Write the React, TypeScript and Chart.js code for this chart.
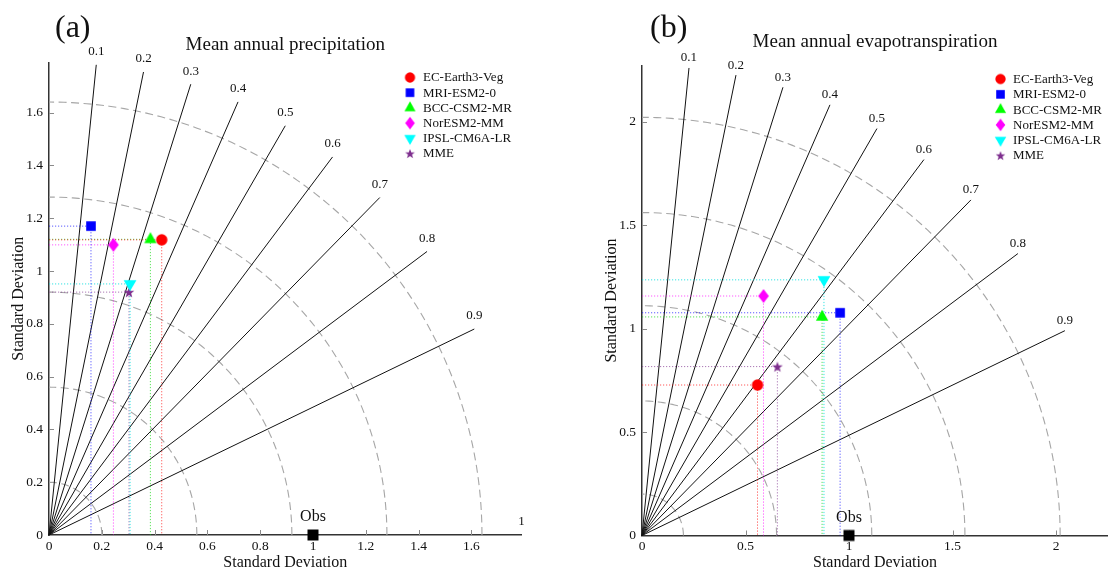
import React, { useEffect, useRef } from 'react';
import { Chart, registerables } from 'chart.js';

Chart.register(...registerables);

// ---------------- data ----------------
const modelNames = ['EC-Earth3-Veg', 'MRI-ESM2-0', 'BCC-CSM2-MR', 'NorESM2-MM', 'IPSL-CM6A-LR', 'MME'];

// Panel (a): mean annual precipitation (standard deviation components)
const precipStdX = [0.427, 0.159, 0.384, 0.244, 0.307, 0.303];
const precipStdY = [1.118, 1.170, 1.120, 1.099, 0.951, 0.920];

// Panel (b): mean annual evapotranspiration
const evapStdX = [0.558, 0.957, 0.870, 0.587, 0.879, 0.654];
const evapStdY = [0.727, 1.076, 1.056, 1.157, 1.235, 0.816];

// Observation reference point (normalised)
const obsStd = 1;

// Correlation rays and labels
const correlationValues = [0.1, 0.2, 0.3, 0.4, 0.5, 0.6, 0.7, 0.8, 0.9];

// Dashed arcs (radius in standard deviation units)
const precipArcs = [0.2, 0.56, 0.92, 1.28, 1.64];
const evapArcs = [0.2, 0.65, 1.11, 1.56, 2.02];

// Axis tick steps
const precipTickStep = 0.2;
const evapTickStep = 0.5;

// ---------------- styles ----------------
const SERIF = '"Liberation Serif", "Times New Roman", serif';
const modelColors = ['#ff0000', '#0000ff', '#00ff00', '#ff00ff', '#00ffff', '#7e2f8e'];
const guideColors = [
  'rgba(255,0,0,0.65)',
  'rgba(0,0,255,0.65)',
  'rgba(0,210,0,0.65)',
  'rgba(255,0,255,0.65)',
  'rgba(0,220,220,0.8)',
  'rgba(126,47,142,0.65)',
];
const markerKinds = ['circle', 'square', 'triangle', 'diamond', 'triangleDown', 'star'];

function makeMarker(kind: string, color: string): HTMLCanvasElement {
  const c = document.createElement('canvas');
  const s = 16;
  c.width = s;
  c.height = s;
  const g = c.getContext('2d')!;
  g.fillStyle = color;
  const cx = s / 2;
  const cy = s / 2;
  g.beginPath();
  if (kind === 'circle') {
    g.arc(cx, cy, 5.7, 0, Math.PI * 2);
  } else if (kind === 'square') {
    g.rect(cx - 4.8, cy - 4.8, 9.6, 9.6);
  } else if (kind === 'obs') {
    g.rect(cx - 5.5, cy - 5.5, 11, 11);
  } else if (kind === 'triangle') {
    const h = 11;
    g.moveTo(cx, cy - (2 * h) / 3);
    g.lineTo(cx + 6.2, cy + h / 3);
    g.lineTo(cx - 6.2, cy + h / 3);
    g.closePath();
  } else if (kind === 'triangleDown') {
    const h = 11;
    g.moveTo(cx, cy + (2 * h) / 3);
    g.lineTo(cx + 6.4, cy - h / 3);
    g.lineTo(cx - 6.4, cy - h / 3);
    g.closePath();
  } else if (kind === 'diamond') {
    g.moveTo(cx, cy - 7);
    g.lineTo(cx + 5.3, cy);
    g.lineTo(cx, cy + 7);
    g.lineTo(cx - 5.3, cy);
    g.closePath();
  } else if (kind === 'star') {
    const ro = 5.6;
    const ri = 2.3;
    for (let k = 0; k < 10; k++) {
      const r = k % 2 === 0 ? ro : ri;
      const a = -Math.PI / 2 + (k * Math.PI) / 5;
      const px = cx + r * Math.cos(a);
      const py = cy + 0.6 + r * Math.sin(a);
      if (k === 0) g.moveTo(px, py);
      else g.lineTo(px, py);
    }
    g.closePath();
  }
  g.fill();
  return c;
}

type Panel = {
  stdX: number[];
  stdY: number[];
  arcs: number[];
  step: number;
  title: string;
  label: string;
  pxPerUnit: number;
  originX: number;
  originY: number;
  xMax: number;
  yMax: number;
  lineR: number;
  corrLabelOffset: number;
  titleBaseline: number;
  labelX: number;
  legendMarkerX: number;
  legendTextX: number;
  legendY0: number;
  legendStep: number;
  layoutLeft: number;
  yTitlePad: number;
};

const CW = 554;
const CH = 573;

const panels: Panel[] = [
  {
    stdX: precipStdX,
    stdY: precipStdY,
    arcs: precipArcs,
    step: precipTickStep,
    title: 'Mean annual precipitation',
    label: '(a)',
    pxPerUnit: 264,
    originX: 49,
    originY: 535,
    xMax: 1.79,
    yMax: 1.79,
    lineR: 1.79,
    corrLabelOffset: 13,
    titleBaseline: 50,
    labelX: 55,
    legendMarkerX: 410,
    legendTextX: 423,
    legendY0: 77.5,
    legendStep: 15.2,
    layoutLeft: 0,
    yTitlePad: 9,
  },
  {
    stdX: evapStdX,
    stdY: evapStdY,
    arcs: evapArcs,
    step: evapTickStep,
    title: 'Mean annual evapotranspiration',
    label: '(b)',
    pxPerUnit: 207,
    originX: 88,
    originY: 535.5,
    xMax: 466 / 207,
    yMax: 2.27,
    lineR: 2.27,
    corrLabelOffset: 10,
    titleBaseline: 47,
    labelX: 96,
    legendMarkerX: 446.5,
    legendTextX: 459,
    legendY0: 79,
    legendStep: 15.3,
    layoutLeft: 40,
    yTitlePad: 8,
  },
];

function isMultiple(v: number, step: number) {
  const q = v / step;
  return Math.abs(q - Math.round(q)) < 1e-6;
}

function fmtTick(v: any) {
  return String(Number(Number(v).toFixed(3)));
}

function TaylorPanel({ panel, left }: { panel: Panel; left: number }) {
  const ref = useRef<HTMLCanvasElement>(null);

  useEffect(() => {
    const p = panel;
    const markers = modelNames.map((_, i) => makeMarker(markerKinds[i], modelColors[i]));
    const obsMarker = makeMarker('obs', '#000000');

    const datasets: any[] = [];
    p.arcs.forEach((r) => {
      const pts: { x: number; y: number }[] = [];
      for (let d = 0; d <= 90; d += 1) {
        const a = (d * Math.PI) / 180;
        pts.push({ x: r * Math.cos(a), y: r * Math.sin(a) });
      }
      datasets.push({
        data: pts,
        showLine: true,
        borderColor: '#a6a6a6',
        borderWidth: 1.1,
        borderDash: [8, 4.5],
        pointRadius: 0,
        tension: 0,
        order: 4,
        clip: false,
      });
    });
    correlationValues.forEach((c) => {
      const a = Math.acos(c);
      datasets.push({
        data: [
          { x: 0, y: 0 },
          { x: p.lineR * Math.cos(a), y: p.lineR * Math.sin(a) },
        ],
        showLine: true,
        borderColor: '#111111',
        borderWidth: 1,
        pointRadius: 0,
        order: 3,
        clip: false,
      });
    });
    modelNames.forEach((_, i) => {
      datasets.push({
        data: [
          { x: 0, y: p.stdY[i] },
          { x: p.stdX[i], y: p.stdY[i] },
          { x: p.stdX[i], y: 0 },
        ],
        showLine: true,
        borderColor: guideColors[i],
        borderWidth: 1,
        borderDash: [1.2, 1.8],
        pointRadius: 0,
        order: 2,
        clip: false,
      });
    });
    modelNames.forEach((name, i) => {
      datasets.push({
        label: name,
        data: [{ x: p.stdX[i], y: p.stdY[i] }],
        pointStyle: markers[i],
        pointRadius: 6,
        backgroundColor: modelColors[i],
        borderColor: modelColors[i],
        order: 1,
        clip: false,
      });
    });
    datasets.push({
      label: 'Obs',
      data: [{ x: obsStd, y: 0 }],
      pointStyle: obsMarker,
      pointRadius: 6,
      backgroundColor: '#000',
      borderColor: '#000',
      order: 0,
      clip: false,
    });

    const overlay = {
      id: 'taylorOverlay',
      beforeDatasetsDraw(chart: any) {
        const { ctx } = chart;
        const xs = chart.scales.x;
        const ys = chart.scales.y;
        ctx.save();
        ctx.strokeStyle = '#8a8a8a';
        ctx.lineWidth = 1;
        xs.ticks.forEach((t: any) => {
          if (t.value <= 0) return;
          const px = Math.round(xs.getPixelForValue(t.value)) + 0.5;
          ctx.beginPath();
          ctx.moveTo(px, ys.bottom);
          ctx.lineTo(px, ys.bottom - 5);
          ctx.stroke();
        });
        ys.ticks.forEach((t: any) => {
          if (t.value <= 0) return;
          const py = Math.round(ys.getPixelForValue(t.value)) + 0.5;
          ctx.beginPath();
          ctx.moveTo(xs.left, py);
          ctx.lineTo(xs.left + 5, py);
          ctx.stroke();
        });
        ctx.restore();
      },
      afterDatasetsDraw(chart: any) {
        const { ctx } = chart;
        const xs = chart.scales.x;
        const ys = chart.scales.y;
        ctx.save();
        ctx.fillStyle = '#111';
        // correlation labels
        ctx.font = `13px ${SERIF}`;
        ctx.textAlign = 'center';
        ctx.textBaseline = 'middle';
        [...correlationValues, 1].forEach((c) => {
          const a = Math.acos(c);
          const px = xs.getPixelForValue(p.lineR * Math.cos(a));
          const py = ys.getPixelForValue(p.lineR * Math.sin(a));
          ctx.fillText(String(c), px, py - p.corrLabelOffset);
        });
        // Obs label
        ctx.font = `16px ${SERIF}`;
        ctx.textBaseline = 'alphabetic';
        ctx.fillText('Obs', xs.getPixelForValue(obsStd), ys.getPixelForValue(0) - 14);
        // title
        ctx.font = `19px ${SERIF}`;
        ctx.fillText(p.title, (xs.left + xs.right) / 2, p.titleBaseline);
        // panel label
        ctx.font = `32px ${SERIF}`;
        ctx.textAlign = 'left';
        ctx.fillText(p.label, p.labelX, 37);
        // legend
        ctx.font = `13px ${SERIF}`;
        ctx.textBaseline = 'middle';
        modelNames.forEach((name, i) => {
          const yy = p.legendY0 + i * p.legendStep;
          const m = markers[i];
          const sc = 0.9;
          ctx.drawImage(m, p.legendMarkerX - (m.width * sc) / 2, yy - (m.height * sc) / 2, m.width * sc, m.height * sc);
          ctx.fillText(name, p.legendTextX, yy + 0.5);
        });
        ctx.restore();
      },
    };

    const plotRight = p.originX + p.xMax * p.pxPerUnit;
    const plotTop = p.originY - p.yMax * p.pxPerUnit;

    const chart = new Chart(ref.current as HTMLCanvasElement, {
      type: 'scatter',
      data: { datasets },
      options: {
        responsive: false,
        animation: false,
        devicePixelRatio: 1,
        events: [],
        layout: {
          autoPadding: false,
          padding: { top: plotTop, right: CW - plotRight, left: p.layoutLeft, bottom: 0 },
        },
        plugins: {
          legend: { display: false },
          tooltip: { enabled: false },
          title: { display: false },
        },
        scales: {
          x: {
            type: 'linear',
            min: 0,
            max: p.xMax,
            afterBuildTicks: (s: any) => {
              s.ticks = s.ticks.filter((t: any) => isMultiple(t.value, p.step));
            },
            afterFit: (s: any) => {
              s.height = CH - p.originY;
              s.paddingLeft = 0;
              s.paddingRight = 0;
            },
            ticks: {
              stepSize: p.step,
              includeBounds: false,
              autoSkip: false,
              maxRotation: 0,
              padding: 3,
              color: '#111',
              font: { family: SERIF, size: 13.5 },
              callback: (v: any) => fmtTick(v),
            },
            grid: { display: true, drawOnChartArea: false, drawTicks: false },
            border: { display: true, color: '#333', width: 1.5 },
            title: {
              display: true,
              text: 'Standard Deviation',
              color: '#111',
              font: { family: SERIF, size: 16 },
              padding: { top: 0, bottom: 1 },
            },
          },
          y: {
            type: 'linear',
            min: 0,
            max: p.yMax,
            afterBuildTicks: (s: any) => {
              s.ticks = s.ticks.filter((t: any) => isMultiple(t.value, p.step));
            },
            afterFit: (s: any) => {
              s.width = p.originX - p.layoutLeft;
              s.paddingTop = 0;
              s.paddingBottom = 0;
            },
            ticks: {
              stepSize: p.step,
              includeBounds: false,
              autoSkip: false,
              padding: 6,
              color: '#111',
              font: { family: SERIF, size: 13.5 },
              callback: (v: any) => fmtTick(v),
            },
            grid: { display: true, drawOnChartArea: false, drawTicks: false },
            border: { display: true, color: '#333', width: 1.5 },
            title: {
              display: true,
              text: 'Standard Deviation',
              color: '#111',
              font: { family: SERIF, size: 16 },
              padding: { top: p.yTitlePad, bottom: 0 },
            },
          },
        },
      } as any,
      plugins: [overlay],
    });

    return () => chart.destroy();
  }, [panel]);

  return (
    <canvas
      ref={ref}
      width={CW}
      height={CH}
      style={{ position: 'absolute', left, top: 0, width: CW, height: CH, display: 'block' }}
    />
  );
}

export default function App() {
  return (
    <div
      style={{
        position: 'absolute',
        left: 0,
        top: 0,
        width: 1108,
        height: 573,
        background: '#ffffff',
        overflow: 'hidden',
      }}
    >
      <TaylorPanel panel={panels[0]} left={0} />
      <TaylorPanel panel={panels[1]} left={CW} />
    </div>
  );
}
